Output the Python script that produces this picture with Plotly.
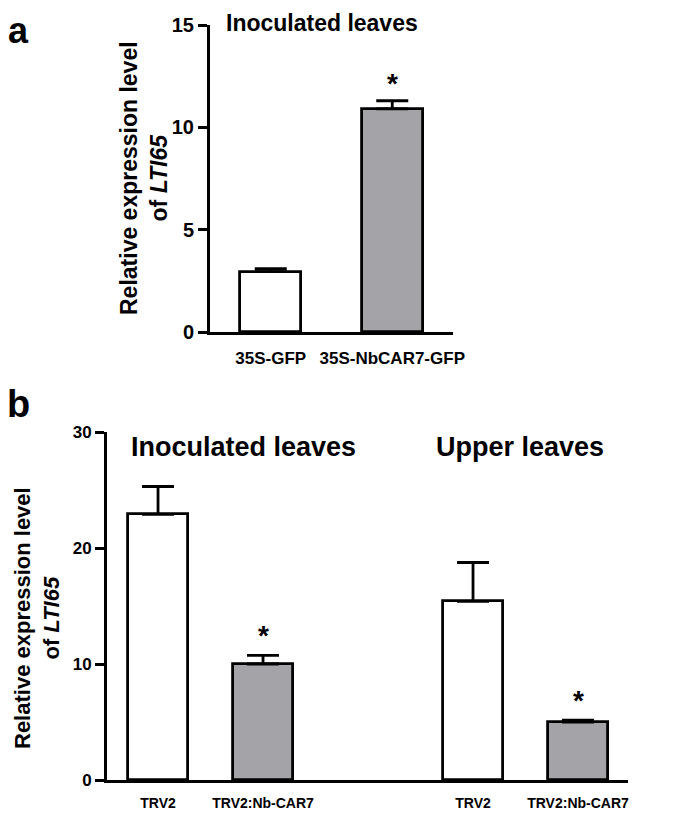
import plotly.graph_objects as go

# Panel a data
a_labels = ["35S-GFP", "35S-NbCAR7-GFP"]
a_values = [2.95, 10.9]
a_errors = [0.15, 0.4]
a_sig = [False, True]
a_colors = ["#ffffff", "#a4a4a8"]

# Panel b data
b_groups = ["Inoculated leaves", "Upper leaves"]
b_labels = ["TRV2", "TRV2:Nb-CAR7", "TRV2", "TRV2:Nb-CAR7"]
b_group_of = [0, 0, 1, 1]
b_values = [22.9, 10.0, 15.4, 5.0]
b_errors = [2.4, 0.75, 3.35, 0.15]
b_sig = [False, True, False, True]
b_colors = ["#ffffff", "#a4a4a8", "#ffffff", "#a4a4a8"]

# page offset (default body margin) and figure size
OFF = 8
W, H = 685 - OFF, 814 - OFF
FONT = "Liberation Sans, Arial, sans-serif"


def px(x):
    return (x - OFF) / W


def py(y):
    return 1 - (y - OFF) / H


def bfont(size):
    return dict(family=FONT, size=size, color="#000000", weight="bold")


fig = go.Figure()

a_x = list(range(len(a_labels)))
fig.add_trace(go.Bar(
    x=a_x, y=a_values, width=0.5, xaxis="x", yaxis="y",
    marker=dict(color=a_colors, line=dict(color="#000000", width=2.8)),
    error_y=dict(type="data", symmetric=False, array=a_errors,
                 arrayminus=[0] * len(a_errors), color="#000000",
                 thickness=2.8, width=16),
    showlegend=False))

b_x = []
counters = {}
for g in b_group_of:
    counters[g] = counters.get(g, 0)
    b_x.append(g * 3 + counters[g])
    counters[g] += 1
fig.add_trace(go.Bar(
    x=b_x, y=b_values, width=0.58, xaxis="x2", yaxis="y2",
    marker=dict(color=b_colors, line=dict(color="#000000", width=2.8)),
    error_y=dict(type="data", symmetric=False, array=b_errors,
                 arrayminus=[0] * len(b_errors), color="#000000",
                 thickness=2.8, width=16),
    showlegend=False))

axis_common = dict(showgrid=False, zeroline=False, showline=True,
                   linecolor="#000000", linewidth=3, automargin=False)

fig.update_layout(
    width=W, height=H, margin=dict(l=0, r=0, t=0, b=0, autoexpand=False),
    paper_bgcolor="#ffffff", plot_bgcolor="#ffffff",
    bargap=0, showlegend=False,
    xaxis=dict(axis_common, domain=[px(210), px(453)], range=[-0.5, 1.5],
               tickvals=a_x, ticktext=a_labels, ticks="", anchor="y",
               ticklabelstandoff=9, tickfont=bfont(17)),
    yaxis=dict(axis_common, domain=[py(332), py(25)], range=[0, 15],
               tickvals=[0, 5, 10, 15], ticks="outside", ticklen=9,
               tickwidth=2.5, tickcolor="#000000", anchor="x",
               tickfont=bfont(20)),
    xaxis2=dict(axis_common, domain=[px(107), px(628)], range=[-0.486, 4.476],
                tickvals=b_x, ticktext=b_labels, ticks="", anchor="y2",
                ticklabelstandoff=8, tickfont=bfont(14)),
    yaxis2=dict(axis_common, domain=[py(780), py(432)], range=[0, 30],
                tickvals=[0, 10, 20, 30], ticks="outside", ticklen=9,
                tickwidth=2.5, tickcolor="#000000", anchor="x2",
                tickfont=bfont(17)),
)

ann = []
for xi, v, e, s in zip(a_x, a_values, a_errors, a_sig):
    if s:
        ann.append(dict(x=xi, y=v + e, xref="x", yref="y", text="*",
                        showarrow=False, xanchor="center", yanchor="bottom",
                        yshift=0, font=bfont(28)))
for xi, v, e, s in zip(b_x, b_values, b_errors, b_sig):
    if s:
        ann.append(dict(x=xi, y=v + e, xref="x2", yref="y2", text="*",
                        showarrow=False, xanchor="center", yanchor="bottom",
                        yshift=2, font=bfont(28)))

# titles
ann.append(dict(x=px(322), y=py(23), xref="paper", yref="paper",
                text="Inoculated leaves", showarrow=False,
                xanchor="center", yanchor="middle", font=bfont(23)))
b_title_x = [243, 520]
for g, tx in zip(b_groups, b_title_x):
    ann.append(dict(x=px(tx), y=py(447), xref="paper", yref="paper",
                    text=g, showarrow=False, xanchor="center", yanchor="middle",
                    font=bfont(27)))

# y titles
ytitle = "Relative expression level<br>of <i>LTI65</i>"
ann.append(dict(x=px(144), y=py(178), xref="paper", yref="paper",
                text=ytitle, textangle=-90, showarrow=False,
                xanchor="center", yanchor="middle", font=bfont(23)))
ann.append(dict(x=0, y=py(618), xref="paper", yref="paper",
                text=ytitle, textangle=-90, showarrow=False,
                xanchor="left", yanchor="middle", font=bfont(22)))

# panel letters
ann.append(dict(x=px(18), y=1, xref="paper", yref="paper",
                text="a", showarrow=False, xanchor="center", yanchor="top",
                font=bfont(36)))
ann.append(dict(x=px(19), y=py(404), xref="paper", yref="paper",
                text="b", showarrow=False, xanchor="center", yanchor="middle",
                font=bfont(38)))

fig.update_layout(annotations=ann)
fig.write_html("out.html")
